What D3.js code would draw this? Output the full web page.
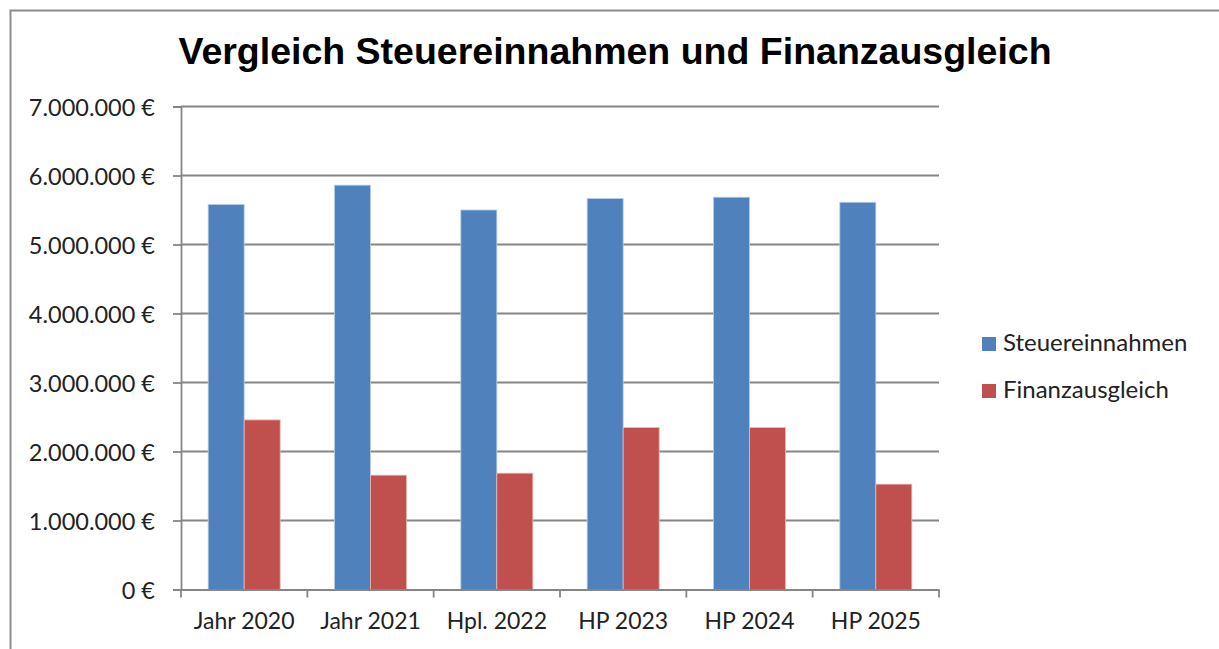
<!DOCTYPE html>
<html>
<head>
<meta charset="utf-8">
<script src="https://cdn.jsdelivr.net/npm/d3@7"></script>
<style>
	body { margin: 0; background: #fff; }
	svg { display: block; }
</style>
</head>
<body>
<svg id="chart" width="1219" height="649"></svg>
<script>
	// data
	var categories = ['Jahr 2020', 'Jahr 2021', 'Hpl. 2022', 'HP 2023', 'HP 2024', 'HP 2025'];
	var seriesNames = ['Steuereinnahmen', 'Finanzausgleich'];
	var steuereinnahmen = [5580000, 5860000, 5500000, 5665000, 5685000, 5612000];
	var finanzausgleich = [2458000, 1657000, 1686000, 2347000, 2347000, 1527000];
	var yTicks = [0, 1000000, 2000000, 3000000, 4000000, 5000000, 6000000, 7000000];
	var colors = ['#4F81BD', '#C0504D'];

	var svg = d3.select('#chart');
	var labelFont = 'Lato, "Open Sans", sans-serif';

	var plotLeft = 181, plotRight = 939, plotTop = 106.5, plotBottom = 589.5;

	// chart frame (runs past right and bottom edge of the picture)
	svg.append('rect')
		.attr('x', 10.5).attr('y', 10.5)
		.attr('width', 1240).attr('height', 700)
		.attr('fill', 'none')
		.attr('stroke', '#8c8c8c')
		.attr('stroke-width', 2);

	svg.append('text')
		.attr('x', 615).attr('y', 64)
		.attr('text-anchor', 'middle')
		.attr('font-family', '"Liberation Sans", Arial, sans-serif')
		.attr('font-weight', 'bold')
		.attr('font-size', 37.5)
		.attr('fill', '#000')
		.text('Vergleich Steuereinnahmen und Finanzausgleich');

	var x = d3.scaleBand()
		.domain(categories)
		.range([plotLeft, plotRight])
		.paddingInner(0.43)
		.paddingOuter(0.215);

	var xSeries = d3.scaleBand()
		.domain(seriesNames)
		.range([0, x.bandwidth()]);

	var y = d3.scaleLinear()
		.domain([0, 7000000])
		.range([plotBottom, plotTop]);

	var locale = d3.formatLocale({ decimal: ',', thousands: '.', grouping: [3], currency: ['', ' €'] });
	var fmt = locale.format('$,.0f');

	// gridlines
	svg.append('g')
		.selectAll('line')
		.data(yTicks.slice(1))
		.join('line')
		.attr('x1', plotLeft).attr('x2', plotRight)
		.attr('y1', function(d) { return y(d); })
		.attr('y2', function(d) { return y(d); })
		.attr('stroke', '#868686')
		.attr('stroke-width', 1.8);

	// bars
	var data = [steuereinnahmen, finanzausgleich];
	var groups = svg.append('g')
		.selectAll('g')
		.data(categories)
		.join('g')
		.attr('transform', function(d) { return 'translate(' + x(d) + ',0)'; });

	groups.selectAll('rect')
		.data(function(cat, i) {
			return seriesNames.map(function(name, s) { return { name: name, value: data[s][i], s: s }; });
		})
		.join('rect')
		.attr('x', function(d) { return xSeries(d.name); })
		.attr('width', xSeries.bandwidth())
		.attr('y', function(d) { return y(d.value); })
		.attr('height', function(d) { return plotBottom - y(d.value); })
		.attr('fill', function(d) { return colors[d.s]; })
		.attr('stroke', function(d) { return d.s === 0 ? '#b9cde5' : '#e6b9b8'; })
		.attr('stroke-width', 0.8);

	// y axis
	var yAxis = svg.append('g')
		.attr('transform', 'translate(' + plotLeft + ',0)')
		.call(d3.axisLeft(y).tickValues(yTicks).tickFormat(fmt).tickSize(8).tickPadding(18));
	yAxis.select('.domain').attr('stroke', '#868686').attr('stroke-width', 1.8);
	yAxis.selectAll('.tick line').attr('stroke', '#868686').attr('stroke-width', 1.8);
	yAxis.selectAll('.tick text')
		.attr('font-family', labelFont)
		.attr('font-size', 23.5)
		.attr('dy', '0.38em')
		.attr('fill', '#222');

	// x axis
	var xAxis = svg.append('g')
		.attr('transform', 'translate(0,' + plotBottom + ')')
		.call(d3.axisBottom(x).tickSize(0).tickPadding(23));
	xAxis.select('.domain').attr('stroke', '#868686').attr('stroke-width', 1.8);
	xAxis.selectAll('.tick text')
		.attr('font-family', labelFont)
		.attr('font-size', 23)
		.attr('fill', '#222');

	// category boundary ticks
	var step = x.step();
	var boundaries = d3.range(categories.length + 1).map(function(i) { return plotLeft + i * step; });
	xAxis.append('g')
		.selectAll('line')
		.data(boundaries)
		.join('line')
		.attr('x1', function(d) { return d; }).attr('x2', function(d) { return d; })
		.attr('y1', 0).attr('y2', 8)
		.attr('stroke', '#868686')
		.attr('stroke-width', 1.8);

	// legend
	var legend = svg.append('g')
		.selectAll('g')
		.data(seriesNames)
		.join('g')
		.attr('transform', function(d, i) { return 'translate(982,' + (337 + i * 47) + ')'; });
	legend.append('rect')
		.attr('width', 14).attr('height', 14)
		.attr('fill', function(d, i) { return colors[i]; });
	legend.append('text')
		.attr('x', 21).attr('y', 14)
		.attr('font-family', labelFont)
		.attr('font-size', 24)
		.attr('fill', '#222')
		.text(function(d) { return d; });
</script>
</body>
</html>
